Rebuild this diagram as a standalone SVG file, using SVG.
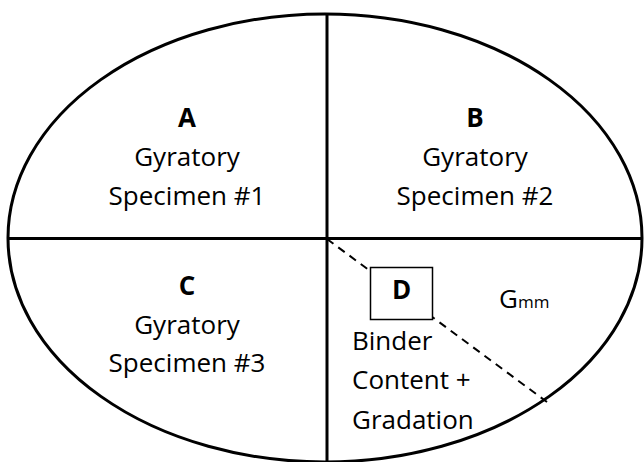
<svg xmlns="http://www.w3.org/2000/svg" width="644" height="462" viewBox="0 0 644 462">
<style>
.t{font-family:"Open Sans","Noto Sans",sans-serif;font-size:26px;fill:#000}
.b{font-weight:bold}
.m{text-anchor:middle}
.ln{stroke:#000;stroke-width:3;fill:none}
</style>
<rect width="644" height="462" fill="#fff"/>
<g id="connectors">
<ellipse class="ln" cx="325" cy="238" rx="317" ry="224"/>
<line class="ln" x1="327" y1="14" x2="327" y2="462"/>
<line class="ln" x1="8" y1="238.5" x2="642" y2="238.5"/>
<line x1="327" y1="239" x2="547" y2="402" stroke="#000" stroke-width="2" stroke-dasharray="8,6"/>
</g>
<g id="A"><text class="t m b" x="187" y="127">A</text><text class="t m" x="187" y="166">Gyratory</text><text class="t m" x="187" y="205">Specimen #1</text></g>
<g id="B"><text class="t m b" x="475" y="127">B</text><text class="t m" x="475" y="166">Gyratory</text><text class="t m" x="475" y="205">Specimen #2</text></g>
<g id="C"><text class="t m b" x="187" y="295">C</text><text class="t m" x="187" y="333.5">Gyratory</text><text class="t m" x="187" y="372">Specimen #3</text></g>
<g id="D"><rect x="370.5" y="267.5" width="62" height="52" fill="#fff" stroke="#000" stroke-width="1.5"/><text class="t m b" x="401.5" y="298.5">D</text>
<text class="t" x="352" y="349.5">Binder</text><text class="t" x="352" y="388.5">Content +</text><text class="t" x="352" y="428.5">Gradation</text></g>
<g id="Gmm"><text class="t" x="499" y="308">G<tspan font-size="17">mm</tspan></text></g>
</svg>
